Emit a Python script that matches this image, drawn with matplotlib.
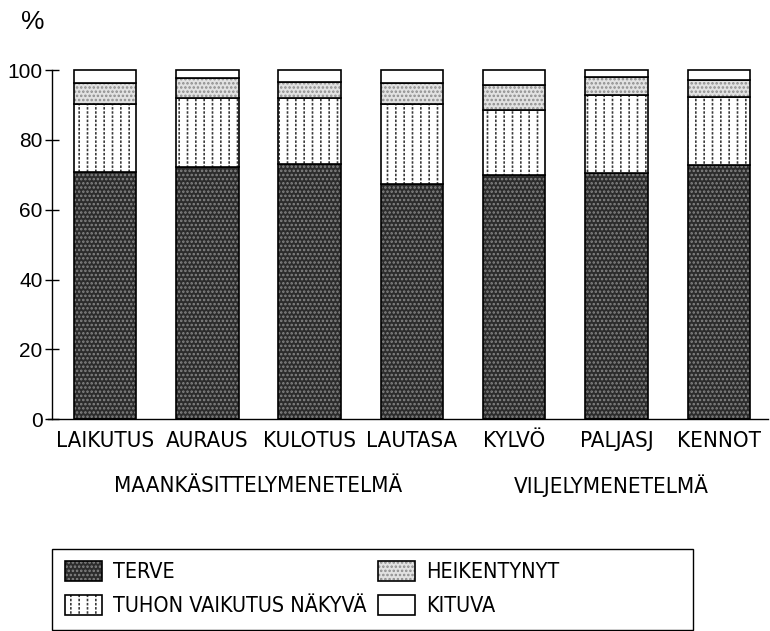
import matplotlib
matplotlib.use('Agg')
import matplotlib.pyplot as plt
from matplotlib.patches import Rectangle
import numpy as np

categories = ['LAIKUTUS', 'AURAUS', 'KULOTUS', 'LAUTASA', 'KYLVÖ', 'PALJASJ', 'KENNOT']
groups = ['MAANKÄSITTELYMENETELMÄ', 'VILJELYMENETELMÄ']
group_centers = [1.5, 4.95]
terve = [70.9, 72.1, 73.0, 67.3, 69.9, 70.4, 72.9]
tuhon = [19.4, 19.8, 18.9, 23.0, 18.6, 22.4, 19.3]
heikentynyt = [6.1, 5.7, 4.8, 6.1, 7.3, 5.2, 4.9]
kituva = [3.6, 2.4, 3.3, 3.6, 4.2, 2.0, 2.9]
series_labels = ['TERVE', 'TUHON VAIKUTUS NÄKYVÄ', 'HEIKENTYNYT', 'KITUVA']
yticks = [0, 20, 40, 60, 80, 100]

plt.rcParams['hatch.linewidth'] = 1.2
NARROW = dict(family='DejaVu Sans', stretch='condensed')
REG = dict(family=['Liberation Sans', 'DejaVu Sans'])

W, H = 770, 631
fig = plt.figure(figsize=(W / 100, H / 100), dpi=100)
ax = fig.add_axes([47.7 / W, (H - 419.3) / H, (768 - 47.7) / W, (419.3 - 70) / H])

x = np.arange(len(categories))
w = 0.61
series = [terve, tuhon, heikentynyt, kituva]
bottoms = np.vstack([np.zeros(len(x)), np.cumsum(series, axis=0)[:-1]])

handles = []
b0 = bottoms[0]
p1 = ax.bar(x, terve, w, bottom=b0, color='#2c2c2c', edgecolor='#858585', hatch='....', linewidth=0, clip_on=False)
p2 = ax.bar(x, terve, w, bottom=b0, fill=False, edgecolor='black', linewidth=1.2, clip_on=False)
handles.append((p1[0], p2[0]))
b1 = bottoms[1]
p1 = ax.bar(x, tuhon, w, bottom=b1, color='white', edgecolor='#3a3a3a', hatch='||', linewidth=0, clip_on=False)
p2 = ax.bar(x, tuhon, w, bottom=b1, facecolor='none', edgecolor='white', hatch='----', linewidth=0, clip_on=False)
p3 = ax.bar(x, tuhon, w, bottom=b1, fill=False, edgecolor='black', linewidth=1.2, clip_on=False)
handles.append((p1[0], p2[0], p3[0]))
b2 = bottoms[2]
p1 = ax.bar(x, heikentynyt, w, bottom=b2, color='#e2e2e2', edgecolor='#8c8c8c', hatch='....', linewidth=0, clip_on=False)
p2 = ax.bar(x, heikentynyt, w, bottom=b2, fill=False, edgecolor='black', linewidth=1.2, clip_on=False)
handles.append((p1[0], p2[0]))
b3 = bottoms[3]
p1 = ax.bar(x, kituva, w, bottom=b3, color='white', edgecolor='black', linewidth=1.2, clip_on=False)
handles.append((p1[0],))

ax.set_xlim(-0.56, 6.48)
ax.set_ylim(0, 100)
ax.spines['top'].set_visible(False)
ax.spines['right'].set_visible(False)
ax.spines['left'].set_position(('data', -0.518))
ax.spines['left'].set_bounds(0, 100)
for s in ('left', 'bottom'):
    ax.spines[s].set_linewidth(1.0)

ax.set_yticks(yticks)
ax.set_yticklabels([str(v) for v in yticks], fontsize=15, **REG)
ax.tick_params(axis='y', direction='inout', length=9.5, width=1.0, pad=2)
ax.set_xticks(x)
ax.set_xticklabels(categories, fontsize=16, **NARROW)
ax.tick_params(axis='x', length=0, pad=8.5)

for g, c in zip(groups, group_centers):
    ax.text(c, -0.19, g, transform=ax.get_xaxis_transform(), ha='center', va='center',
            fontsize=16, **NARROW)

fig.text(33 / W, 1 - 22 / H, '%', ha='center', va='center', fontsize=19, **REG)

fig.add_artist(Rectangle((52 / W, 1 / H), (693 - 52) / W, (630 - 549) / H, fill=False,
                         edgecolor='black', linewidth=1.0, transform=fig.transFigure))
ax.legend(handles, series_labels, ncol=2, loc='upper left',
          bbox_to_anchor=(65 / W, 1 - 561 / H), bbox_transform=fig.transFigure,
          frameon=False, borderpad=0, borderaxespad=0,
          prop=dict(size=15.5, **NARROW),
          handlelength=1.72, handleheight=1.02, handletextpad=0.51,
          columnspacing=0.55, labelspacing=0.6)

fig.savefig('out.png', dpi=100)
